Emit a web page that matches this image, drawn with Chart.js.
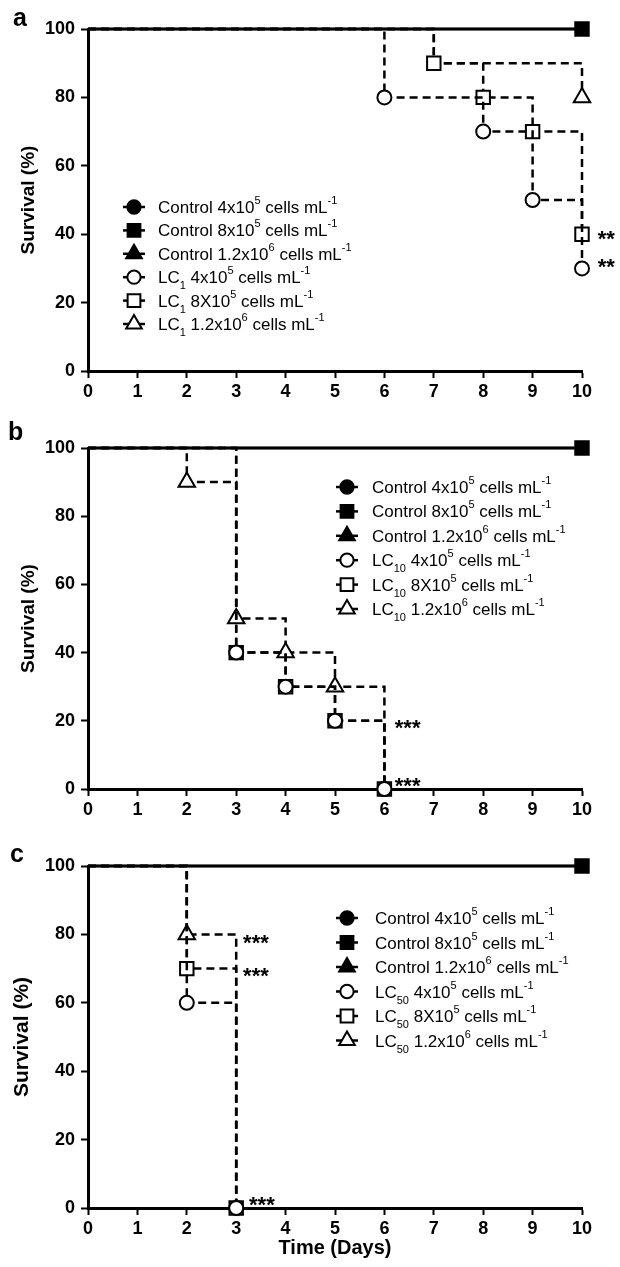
<!DOCTYPE html>
<html>
<head>
<meta charset="utf-8">
<script src="https://cdn.jsdelivr.net/npm/chart.js@4.4.1/dist/chart.umd.min.js"></script>
<style>
  html, body { margin: 0; padding: 0; background: #fff; }
  canvas { position: absolute; left: 0; }
</style>
</head>
<body>
<canvas id="panelA" width="620" height="420" style="top:0;width:620px;height:420px"></canvas>
<canvas id="panelB" width="620" height="420" style="top:420px;width:620px;height:420px"></canvas>
<canvas id="panelC" width="620" height="427" style="top:840px;width:620px;height:427px"></canvas>
<script>
const FONT = "'Liberation Sans', Arial, Helvetica, sans-serif";

// axis ticks
const dayTicks = [0, 1, 2, 3, 4, 5, 6, 7, 8, 9, 10];
const survivalTicks = [0, 20, 40, 60, 80, 100];

// legend texts (^{..} superscript, _{..} subscript)
const controlLabels = ['Control 4x10^{5} cells mL^{-1}', 'Control 8x10^{5} cells mL^{-1}', 'Control 1.2x10^{6} cells mL^{-1}'];
const lc1Labels = ['LC_{1} 4x10^{5} cells mL^{-1}', 'LC_{1} 8X10^{5} cells mL^{-1}', 'LC_{1} 1.2x10^{6} cells mL^{-1}'];
const lc10Labels = ['LC_{10} 4x10^{5} cells mL^{-1}', 'LC_{10} 8X10^{5} cells mL^{-1}', 'LC_{10} 1.2x10^{6} cells mL^{-1}'];
const lc50Labels = ['LC_{50} 4x10^{5} cells mL^{-1}', 'LC_{50} 8X10^{5} cells mL^{-1}', 'LC_{50} 1.2x10^{6} cells mL^{-1}'];

// controls: no deaths until day 10
const controlDays = [0, 10];
const controlSurvival = [100, 100];

// a - LC1
const a4Days = [0, 6, 8, 9, 10];
const a4Survival = [100, 80, 70, 50, 30];
const a8Days = [0, 7, 8, 9, 10];
const a8Survival = [100, 90, 80, 70, 40];
const a12Days = [0, 7, 10];
const a12Survival = [100, 90, 80];
const aStarText = ['**', '**'];
const aStarDays = [10.32, 10.32];
const aStarSurvival = [40, 32];

// b - LC10
const b4Days = [0, 3, 4, 5, 6];
const b4Survival = [100, 40, 30, 20, 0];
const b8Days = [0, 3, 4, 5, 6];
const b8Survival = [100, 40, 30, 20, 0];
const b12Days = [0, 2, 3, 4, 5, 6];
const b12Survival = [100, 90, 50, 40, 30, 0];
const bStarText = ['***', '***'];
const bStarDays = [6.21, 6.21];
const bStarSurvival = [19.4, 2.3];

// c - LC50
const c4Days = [0, 2, 3];
const c4Survival = [100, 60, 0];
const c8Days = [0, 2, 3];
const c8Survival = [100, 70, 0];
const c12Days = [0, 2, 3];
const c12Survival = [100, 80, 0];
const cStarText = ['***', '***', '***'];
const cStarDays = [3.14, 3.14, 3.26];
const cStarSurvival = [79, 69.3, 2.3];

const shapes = ['circle', 'rect', 'triangle'];
const markerRadius = { circle: 7, rect: 9.5, triangle: 9.5 };
// lower = drawn on top
const drawOrder = { control: [1, 0, 2], lc: [3, 4, 5] };

function groupSet(label, days, survival, shape, isControl, order) {
    return {
        label: label,
        order: order,
        data: days.map((d, i) => ({ x: d, y: survival[i] })),
        stepped: true,
        borderColor: '#000',
        borderWidth: 2.5,
        borderDash: isControl ? [] : [8, 5],
        pointStyle: shape,
        pointBackgroundColor: isControl ? '#000' : '#fff',
        pointBorderColor: '#000',
        pointBorderWidth: 2,
        fill: false,
        clip: false
    };
}

// a marker sitting exactly under a square drawn above it is not seen
function hideCovered(datasets) {
    datasets.forEach(ds => {
        const r = markerRadius[ds.pointStyle];
        const radii = ds.data.map((p, i) => {
            if (i === 0) return 0;
            const covered = datasets.some(o => o !== ds && o.order < ds.order && o.pointStyle === 'rect' &&
                o.data.some((q, j) => j > 0 && q.x === p.x && q.y === p.y));
            return covered ? 0 : r;
        });
        ds.pointRadius = radii;
        ds.pointHoverRadius = radii;
    });
}

function parseRich(str) {
    const parts = [];
    const re = /([\^_])\{([^}]*)\}/g;
    let last = 0, m;
    while ((m = re.exec(str))) {
        if (m.index > last) parts.push({ t: str.slice(last, m.index), k: '' });
        parts.push({ t: m[2], k: m[1] });
        last = re.lastIndex;
    }
    if (last < str.length) parts.push({ t: str.slice(last), k: '' });
    return parts;
}

function drawMarker(ctx, shape, x, y, r, fill) {
    ctx.beginPath();
    if (shape === 'circle') {
        ctx.arc(x, y, r, 0, Math.PI * 2);
    } else if (shape === 'rect') {
        const h = r * Math.SQRT1_2;
        ctx.rect(x - h, y - h, 2 * h, 2 * h);
    } else {
        for (let k = 0; k < 3; k++) {
            const a = k * 2 * Math.PI / 3;
            const px = x + Math.sin(a) * r, py = y - Math.cos(a) * r;
            if (k === 0) ctx.moveTo(px, py); else ctx.lineTo(px, py);
        }
        ctx.closePath();
    }
    ctx.fillStyle = fill;
    ctx.fill();
    ctx.lineWidth = 2;
    ctx.strokeStyle = '#000';
    ctx.stroke();
}

// panel letter, legend with super/subscripts, significance stars
function figurePlugin(cfg) {
    return {
        id: 'figure' + cfg.letter,
        afterDatasetsDraw(chart) {
            const ctx = chart.ctx;
            const xs = chart.scales.x, ys = chart.scales.y;
            ctx.save();
            ctx.fillStyle = '#000';
            ctx.textAlign = 'left';
            ctx.textBaseline = 'alphabetic';
            ctx.font = 'bold 25px ' + FONT;
            ctx.fillText(cfg.letter, cfg.letterX, cfg.letterY);

            ctx.font = 'bold 22px ' + FONT;
            cfg.stars.text.forEach((s, i) => {
                ctx.fillText(s, xs.getPixelForValue(cfg.stars.days[i]), ys.getPixelForValue(cfg.stars.survival[i]) + 12);
            });

            cfg.labels.forEach((lbl, i) => {
                const y = cfg.legendY + i * cfg.legendRow;
                const ds = chart.data.datasets[i];
                ctx.beginPath();
                ctx.moveTo(cfg.legendX - 11, y);
                ctx.lineTo(cfg.legendX + 11, y);
                ctx.lineWidth = 2.5;
                ctx.strokeStyle = '#000';
                ctx.setLineDash([]);
                ctx.stroke();
                drawMarker(ctx, ds.pointStyle, cfg.legendX, y, markerRadius[ds.pointStyle] * 0.95, ds.pointBackgroundColor);

                let x = cfg.legendTextX;
                ctx.fillStyle = '#000';
                parseRich(lbl).forEach(p => {
                    let dy = 6;
                    if (p.k === '') ctx.font = '17px ' + FONT;
                    else ctx.font = '11px ' + FONT;
                    if (p.k === '^') dy = -3;
                    if (p.k === '_') dy = 12;
                    ctx.fillText(p.t, x, y + dy);
                    x += ctx.measureText(p.t).width;
                });
            });
            ctx.restore();
        }
    };
}

function makePanel(cfg) {
    const canvas = document.getElementById(cfg.id);
    const H = canvas.height;
    const datasets = [];
    controlLabels.forEach((lbl, i) => datasets.push(groupSet(lbl, controlDays, controlSurvival, shapes[i], true, drawOrder.control[i])));
    cfg.lcLabels.forEach((lbl, i) => datasets.push(groupSet(lbl, cfg.lc[i][0], cfg.lc[i][1], shapes[i], false, drawOrder.lc[i])));
    hideCovered(datasets);
    cfg.labels = controlLabels.concat(cfg.lcLabels);

    const tickFont = { family: FONT, size: 18, weight: 'bold' };
    const grid = { drawOnChartArea: false, drawTicks: true, tickLength: 7, tickWidth: 2, tickColor: '#000', color: '#000' };
    const border = { display: true, color: '#000', width: 3 };

    new Chart(canvas, {
        type: 'line',
        data: { datasets: datasets },
        options: {
            responsive: false,
            animation: false,
            events: [],
            layout: { padding: { top: cfg.top, right: 38, bottom: 0, left: 0 } },
            plugins: { legend: { display: false }, tooltip: { enabled: false } },
            scales: {
                x: {
                    type: 'linear', min: 0, max: 10,
                    afterBuildTicks: s => { s.ticks = dayTicks.map(v => ({ value: v })); },
                    afterFit: s => { s.height = H - cfg.bottom; },
                    ticks: { font: tickFont, color: '#000', padding: 3, autoSkip: false, maxRotation: 0 },
                    grid: grid, border: border,
                    title: cfg.xTitle ? { display: true, text: 'Time (Days)', color: '#000', font: { family: FONT, size: 20, weight: 'bold' }, padding: { top: 0, bottom: 7 } } : { display: false }
                },
                y: {
                    type: 'linear', min: 0, max: 100,
                    afterBuildTicks: s => { s.ticks = survivalTicks.map(v => ({ value: v })); },
                    afterFit: s => { s.width = 88; },
                    ticks: { font: tickFont, color: '#000', padding: 6 },
                    grid: grid, border: border,
                    title: { display: true, text: 'Survival (%)', color: '#000', font: { family: FONT, size: cfg.yTitleSize, weight: 'bold' }, padding: { top: cfg.yTitleX - cfg.yTitleSize * 0.6, bottom: 0 } }
                }
            }
        },
        plugins: [figurePlugin(cfg)]
    });
}

makePanel({
    id: 'panelA', top: 29, bottom: 371, letter: 'a', letterX: 13, letterY: 26,
    yTitleSize: 19, yTitleX: 29,
    legendX: 134, legendTextX: 158, legendY: 207, legendRow: 23.4,
    lcLabels: lc1Labels,
    lc: [[a4Days, a4Survival], [a8Days, a8Survival], [a12Days, a12Survival]],
    stars: { text: aStarText, days: aStarDays, survival: aStarSurvival }
});
makePanel({
    id: 'panelB', top: 28, bottom: 369, letter: 'b', letterX: 8, letterY: 20,
    yTitleSize: 19, yTitleX: 29,
    legendX: 347, legendTextX: 372, legendY: 67, legendRow: 24.4,
    lcLabels: lc10Labels,
    lc: [[b4Days, b4Survival], [b8Days, b8Survival], [b12Days, b12Survival]],
    stars: { text: bStarText, days: bStarDays, survival: bStarSurvival }
});
makePanel({
    id: 'panelC', top: 26, bottom: 368, letter: 'c', letterX: 10, letterY: 22,
    yTitleSize: 21, yTitleX: 22, xTitle: true,
    legendX: 347, legendTextX: 375, legendY: 78, legendRow: 24.5,
    lcLabels: lc50Labels,
    lc: [[c4Days, c4Survival], [c8Days, c8Survival], [c12Days, c12Survival]],
    stars: { text: cStarText, days: cStarDays, survival: cStarSurvival }
});
</script>
</body>
</html>
